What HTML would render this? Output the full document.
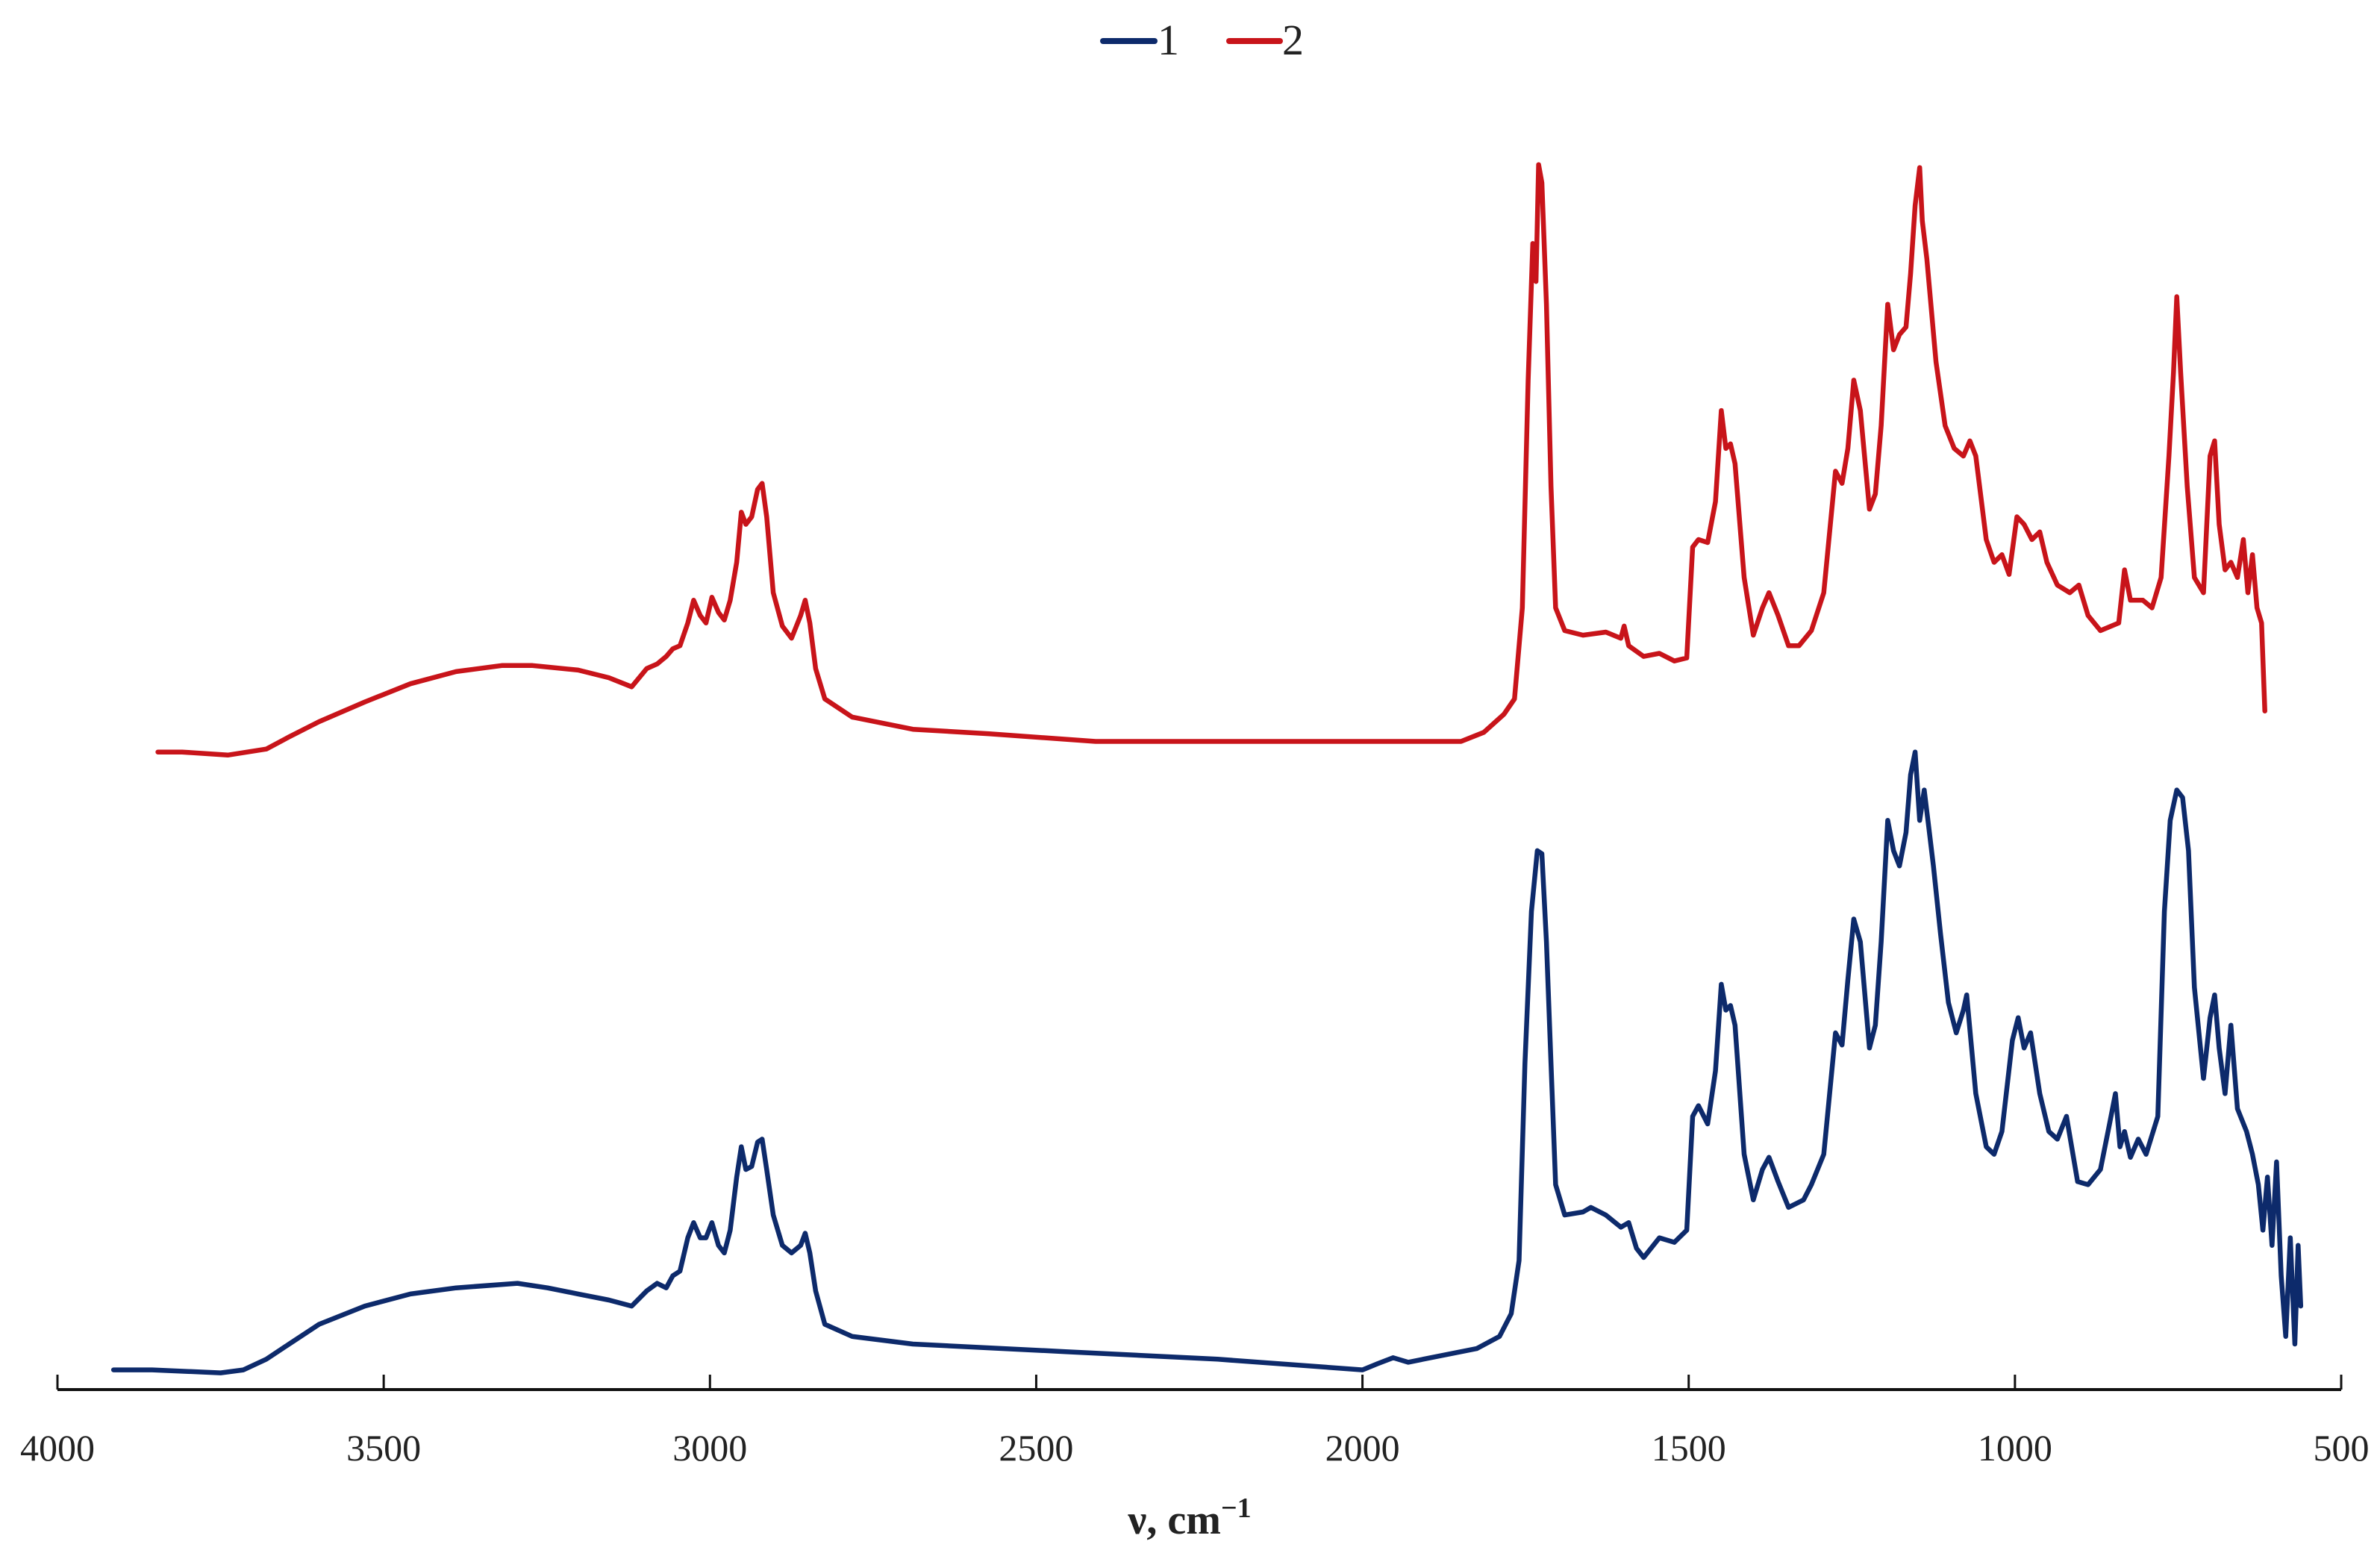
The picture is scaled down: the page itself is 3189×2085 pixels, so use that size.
<!DOCTYPE html>
<html><head><meta charset="utf-8"><style>
html,body{margin:0;padding:0;background:#fff;}
svg{display:block;font-family:"Liberation Serif",serif;}
</style></head><body>
<svg id="chart" width="3189" height="2085" viewBox="0 0 3189 2085" xmlns="http://www.w3.org/2000/svg">
<g id="legend">
<g>
<line x1="1478" y1="55" x2="1547" y2="55" stroke="#0d2a6b" stroke-width="8" stroke-linecap="round"/>
<text x="1551" y="73" font-size="58" fill="#222">1</text></g>
<g>
<line x1="1647" y1="55" x2="1715" y2="55" stroke="#c8141a" stroke-width="8" stroke-linecap="round"/>
<text x="1718" y="73" font-size="58" fill="#222">2</text></g>
</g>
<g id="axis"></g>
<g id="series"></g>
<text x="1594" y="2055" font-size="56" font-weight="bold" text-anchor="middle" fill="#222">ν, cm<tspan font-size="38" dy="-22">−1</tspan></text>
</svg>
<script>
const xTicks = [4000, 3500, 3000, 2500, 2000, 1500, 1000, 500];
const series1 = [[3914,13],[3855,13],[3750,11],[3715,13],[3680,20],[3645,30],[3599,43],[3529,55],[3459,63],[3389,67],[3295,70],[3249,67],[3202,63],[3155,59],[3120,55],[3097,65],[3081,70],[3067,67],[3057,75],[3046,78],[3034,100],[3025,110],[3015,100],[3006,100],[2997,110],[2987,95],[2978,90],[2969,105],[2959,140],[2952,160],[2945,145],[2936,147],[2927,163],[2920,165],[2913,145],[2903,115],[2889,95],[2875,90],[2861,95],[2854,103],[2847,90],[2838,65],[2824,43],[2782,35],[2689,30],[2455,25],[2222,20],[2000,13],[1977,17],[1953,21],[1930,18],[1884,22],[1825,27],[1790,35],[1772,50],[1760,85],[1751,215],[1741,315],[1732,355],[1725,353],[1718,295],[1711,215],[1704,135],[1690,115],[1662,117],[1650,120],[1627,115],[1604,107],[1592,110],[1580,93],[1569,87],[1545,100],[1522,97],[1503,105],[1494,180],[1485,187],[1471,175],[1459,210],[1450,267],[1443,250],[1436,253],[1429,240],[1415,155],[1401,125],[1387,145],[1377,153],[1363,137],[1347,120],[1324,125],[1312,135],[1293,155],[1275,235],[1265,227],[1256,270],[1247,310],[1237,295],[1223,225],[1214,240],[1205,295],[1195,375],[1186,355],[1177,345],[1167,367],[1160,405],[1153,420],[1146,375],[1139,395],[1132,370],[1125,345],[1114,300],[1102,255],[1090,235],[1079,250],[1074,260],[1060,195],[1044,160],[1032,155],[1020,170],[1004,230],[995,245],[986,225],[976,235],[962,195],[948,170],[935,165],[921,180],[904,137],[888,135],[869,145],[855,175],[846,195],[839,160],[832,170],[823,153],[811,165],[799,155],[781,180],[771,315],[762,375],[752,395],[743,390],[734,355],[725,265],[711,205],[701,245],[694,260],[687,225],[678,195],[669,240],[659,185],[645,170],[636,155],[627,135],[620,105],[613,140],[606,95],[599,150],[592,75],[585,35],[578,100],[571,30],[566,95],[562,55]];
const series2 = [[3846,420],[3809,420],[3739,418],[3680,422],[3645,430],[3599,440],[3529,453],[3459,465],[3389,473],[3319,477],[3272,477],[3202,474],[3155,469],[3120,463],[3097,475],[3081,478],[3067,483],[3057,488],[3046,490],[3034,505],[3025,520],[3015,510],[3006,505],[2997,522],[2987,512],[2978,507],[2969,520],[2959,545],[2952,578],[2945,570],[2936,575],[2927,593],[2920,597],[2913,575],[2903,525],[2889,503],[2875,495],[2861,510],[2854,520],[2847,505],[2838,475],[2824,455],[2782,443],[2689,435],[2572,432],[2409,427],[2222,427],[1989,427],[1849,427],[1814,433],[1783,445],[1767,455],[1755,515],[1746,665],[1739,755],[1734,730],[1730,807],[1725,795],[1718,715],[1711,595],[1704,515],[1690,500],[1662,497],[1627,499],[1604,495],[1599,503],[1592,490],[1569,483],[1545,485],[1522,480],[1503,482],[1494,555],[1485,560],[1471,558],[1459,585],[1450,645],[1443,620],[1436,623],[1429,610],[1415,535],[1401,497],[1387,515],[1377,525],[1363,510],[1347,490],[1331,490],[1312,500],[1293,525],[1275,605],[1265,597],[1256,620],[1247,665],[1237,645],[1223,580],[1214,590],[1205,635],[1195,715],[1186,685],[1177,695],[1167,700],[1160,735],[1153,780],[1146,805],[1142,770],[1135,745],[1121,677],[1107,635],[1093,620],[1079,615],[1069,625],[1060,615],[1044,560],[1032,545],[1020,550],[1009,537],[997,575],[986,570],[974,560],[962,565],[951,545],[935,530],[916,525],[902,530],[888,510],[869,500],[841,505],[832,540],[823,520],[804,520],[790,515],[776,535],[764,615],[757,670],[752,720],[746,670],[736,595],[725,535],[711,525],[701,615],[694,625],[687,570],[678,540],[669,545],[659,535],[650,560],[643,525],[636,550],[629,515],[622,505],[617,447]];

const NS = "http://www.w3.org/2000/svg";
const X0 = 77, X1 = 3137, Y0 = 1862;
function xScale(w){ return X0 + (4000 - w) / 3500 * (X1 - X0); }
function yScale(v){ return Y0 - v * 2.034; }

const axis = document.getElementById('axis');
const base = document.createElementNS(NS, 'line');
base.setAttribute('x1', X0); base.setAttribute('x2', X1);
base.setAttribute('y1', Y0); base.setAttribute('y2', Y0);
base.setAttribute('stroke', '#111'); base.setAttribute('stroke-width', '4');


axis.appendChild(base);
xTicks.forEach(t => {
  const x = xScale(t);
  const tk = document.createElementNS(NS, 'line');
  tk.setAttribute('x1', x); tk.setAttribute('x2', x);
  tk.setAttribute('y1', Y0 - 20); tk.setAttribute('y2', Y0);
  tk.setAttribute('stroke', '#111'); tk.setAttribute('stroke-width', '3');
  
  
  axis.appendChild(tk);
  const lb = document.createElementNS(NS, 'text');
  lb.setAttribute('x', x); lb.setAttribute('y', 1957);
  lb.setAttribute('text-anchor', 'middle'); lb.setAttribute('font-size', '50');
  lb.setAttribute('fill', '#222');
  lb.textContent = t;
  
  
  axis.appendChild(lb);
});

const sg = document.getElementById('series');
function drawSeries(data, color, name){
  const p = document.createElementNS(NS, 'polyline');
  p.setAttribute('points', data.map(d => xScale(d[0]).toFixed(1) + ',' + yScale(d[1]).toFixed(1)).join(' '));
  p.setAttribute('fill', 'none');
  p.setAttribute('stroke', color);
  p.setAttribute('stroke-width', '6.5');
  p.setAttribute('stroke-linejoin', 'round');
  p.setAttribute('stroke-linecap', 'round');
  
  
  sg.appendChild(p);
}
drawSeries(series1, '#0d2a6b', 'spectrum-1-line');
drawSeries(series2, '#c8141a', 'spectrum-2-line');
</script>
</body></html>
